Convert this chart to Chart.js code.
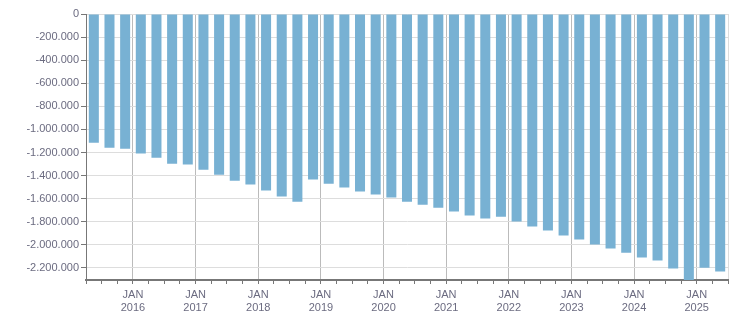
<!DOCTYPE html>
<html>
<head>
<meta charset="utf-8">
<script src="https://cdn.jsdelivr.net/npm/chart.js@4"></script>
<style>
  body { margin: 0; background: #fff; }
  #wrap { width: 751px; height: 313px; }
</style>
</head>
<body>
<div id="wrap"><canvas id="chart"></canvas></div>
<script>
// quarterly values, starting Q2 2015 through Q2 2025
const values = [
    -1115000, -1158000, -1167000,
    -1208000, -1245000, -1297000, -1305000,
    -1349000, -1392000, -1444000, -1478000,
    -1530000, -1582000, -1626000, -1435000,
    -1470000, -1504000, -1539000, -1565000,
    -1591000, -1626000, -1652000, -1678000,
    -1712000, -1747000, -1773000, -1756000,
    -1799000, -1842000, -1877000, -1920000,
    -1955000, -1998000, -2033000, -2068000,
    -2111000, -2137000, -2206000, -2305000,
    -2198000, -2232000
];
const years = [2016, 2017, 2018, 2019, 2020, 2021, 2022, 2023, 2024, 2025];
const monthLabel = "JAN";
const firstJan = 3; // quarter index where JAN 2016 begins

const yTicks = [0, -200000, -400000, -600000, -800000, -1000000, -1200000,
    -1400000, -1600000, -1800000, -2000000, -2200000];
const yMin = -2305000;

const textColor = "#6b6b80";
const axisColor = "#777777";

function fmt(v) {
    const s = Math.abs(Math.round(v)).toString().replace(/\B(?=(\d{3})+(?!\d))/g, ".");
    return v < 0 ? "-" + s : s;
}

function isJan(v) {
    return v >= firstJan && (v - firstJan) % 4 === 0;
}

const points = values.map((v, i) => ({ x: i + 0.5, y: v }));

new Chart("chart", {
    type: "bar",
    data: {
        datasets: [{
            data: points,
            backgroundColor: "#78b1d3",
            borderWidth: 0,
            barPercentage: 0.64,
            categoryPercentage: 1
        }]
    },
    options: {
        responsive: true,
        maintainAspectRatio: false,
        animation: false,
        layout: { padding: { top: 14, right: 23, left: 0, bottom: 0 } },
        plugins: { legend: { display: false }, tooltip: { enabled: false } },
        scales: {
            x: {
                type: "linear",
                min: 0,
                max: values.length,
                offset: false,
                afterFit: (s) => { s.height = 33; },
                grid: {
                    offset: false,
                    color: (c) => {
                        const v = c.tick ? c.tick.value : -1;
                        if (isJan(v)) return "#bbbbbb";
                        if (v === values.length) return "#dddddd";
                        return "rgba(0,0,0,0)";
                    },
                    tickColor: axisColor,
                    tickLength: 4
                },
                border: { color: axisColor, width: 2 },
                ticks: {
                    stepSize: 1,
                    autoSkip: false,
                    maxRotation: 0,
                    padding: 4,
                    color: textColor,
                    font: { family: "Liberation Sans", size: 11, lineHeight: 1.2 },
                    callback: (v) => {
                        if (!isJan(v)) return "";
                        const y = years[(v - firstJan) / 4];
                        return y ? [monthLabel, String(y)] : "";
                    }
                }
            },
            y: {
                min: yMin,
                max: 0,
                afterFit: (s) => { s.width = 86; },
                afterBuildTicks: (s) => { s.ticks = yTicks.map((v) => ({ value: v })); },
                grid: { color: "#dddddd", tickColor: axisColor, tickLength: 5 },
                border: { color: axisColor, width: 1 },
                ticks: {
                    padding: 2,
                    color: textColor,
                    font: { family: "Liberation Sans", size: 11 },
                    callback: (v) => fmt(v)
                }
            }
        }
    }
});
</script>
</body>
</html>
